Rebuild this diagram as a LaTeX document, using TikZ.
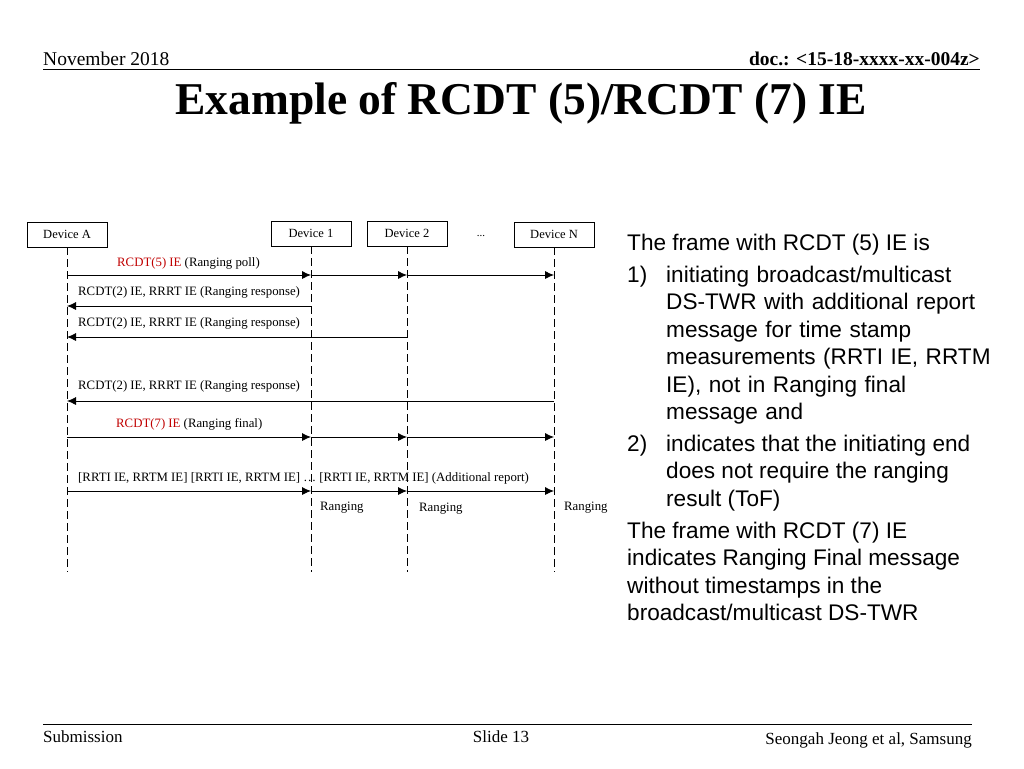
\documentclass[tikz,border=0pt]{standalone}
\usepackage{fontspec}
\setmainfont{Liberation Serif}
\newfontfamily\arial{Liberation Sans}
\usetikzlibrary{arrows.meta}
\definecolor{rc}{RGB}{192,0,0}
\begin{document}
\begin{tikzpicture}[x=1pt,y=-1pt,
  dev/.style={draw,thick,minimum width=80pt,minimum height=25pt,inner sep=0pt,font=\fontsize{12.5}{14}\selectfont},
  life/.style={dashed,thick,dash pattern=on 8pt off 4pt},
  msg/.style={thick,-{Latex[length=9pt,width=8pt]}},
  lab/.style={font=\fontsize{12.8}{14}\selectfont,inner sep=0pt,anchor=south west},
  body/.style={font=\arial\fontsize{22.6}{27.4}\selectfont,inner sep=0pt,anchor=north west,align=left}]
\useasboundingbox (0,0) rectangle (1024,768);
\node[anchor=base west,inner sep=0pt,font=\fontsize{19.5}{22}\selectfont] (nov) at (43,65) {November 2018};
\node[anchor=base east,inner sep=0pt,font=\bfseries\fontsize{19.5}{22}\selectfont] (doc) at (980,65) {doc.: <15-18-xxxx-xx-004z>};
\draw[thick] (43,69) -- (980,69);
\node[font=\bfseries\fontsize{45.5}{50}\selectfont,inner sep=0pt] (title) at (521,103) {Example of RCDT (5)/RCDT (7) IE};
% devices
\node[dev] (A) at (67,234.5) {Device A};
\node[dev] (D1) at (311,233.5) {Device 1};
\node[dev] (D2) at (407,233.5) {Device 2};
\node[dev] (DN) at (554,234.5) {Device N};
\node[font=\fontsize{11}{12}\selectfont] (dots) at (481,236) {...};
\foreach \n in {A,D1,D2,DN}{\coordinate (\n e) at (\n.south |- 0,572);}
\foreach \n in {A,D1,D2,DN}{\draw[life] (\n.south) -- (\n e);}
% messages
\foreach \y in {275,437,491}{
  \draw[msg] (A.south |- 0,\y) -- (D1.south |- 0,\y);
  \draw[msg] (D1.south |- 0,\y) -- (D2.south |- 0,\y);
  \draw[msg] (D2.south |- 0,\y) -- (DN.south |- 0,\y);}
\draw[msg] (D1.south |- 0,306) -- (A.south |- 0,306);
\draw[msg] (D2.south |- 0,337) -- (A.south |- 0,337);
\draw[msg] (DN.south |- 0,401) -- (A.south |- 0,401);
\node[lab] (l1) at (117,269) {\textcolor{rc}{RCDT(5) IE} (Ranging poll)};
\node[lab] (l2) at (78,298) {RCDT(2) IE, RRRT IE (Ranging response)};
\node[lab] (l3) at (78,329) {RCDT(2) IE, RRRT IE (Ranging response)};
\node[lab] (l4) at (78,392) {RCDT(2) IE, RRRT IE (Ranging response)};
\node[lab] (l5) at (116,430) {\textcolor{rc}{RCDT(7) IE} (Ranging final)};
\node[lab] (l6) at (78,484) {[RRTI IE, RRTM IE] [RRTI IE, RRTM IE] \dots\ [RRTI IE, RRTM IE] (Additional report)};
\node[lab] (r1) at (320,513) {Ranging};
\node[lab] (r2) at (419,514) {Ranging};
\node[lab] (r3) at (564,513) {Ranging};
% right text
\node[body] (t0) at (627,234) {The frame with RCDT (5) IE is};
\node[body] (n1) at (627,266) {1)};
\node[body,text width=340pt] (t1) at (666,266) {initiating broadcast/multicast\\DS-TWR with additional report\\message for time stamp\\measurements (RRTI IE, RRTM\\IE), not in Ranging final\\message and};
\node[body] (n2) at (627,435) {2)};
\node[body] (t2) at (666,435) {indicates that the initiating end\\does not require the ranging\\result (ToF)};
\node[body] (t3) at (627,522) {The frame with RCDT (7) IE\\indicates Ranging Final message\\without timestamps in the\\broadcast/multicast DS-TWR};
% footer
\draw[thick] (43,724) -- (972,724);
\node[anchor=base west,inner sep=0pt,font=\fontsize{17}{19}\selectfont] (sub) at (43,742) {Submission};
\node[anchor=base,inner sep=0pt,font=\fontsize{17}{19}\selectfont] (sl) at (501,742) {Slide 13};
\node[anchor=base east,inner sep=0pt,font=\fontsize{17}{19}\selectfont] (auth) at (972,744) {Seongah Jeong et al, Samsung};
\end{tikzpicture}
\end{document}
